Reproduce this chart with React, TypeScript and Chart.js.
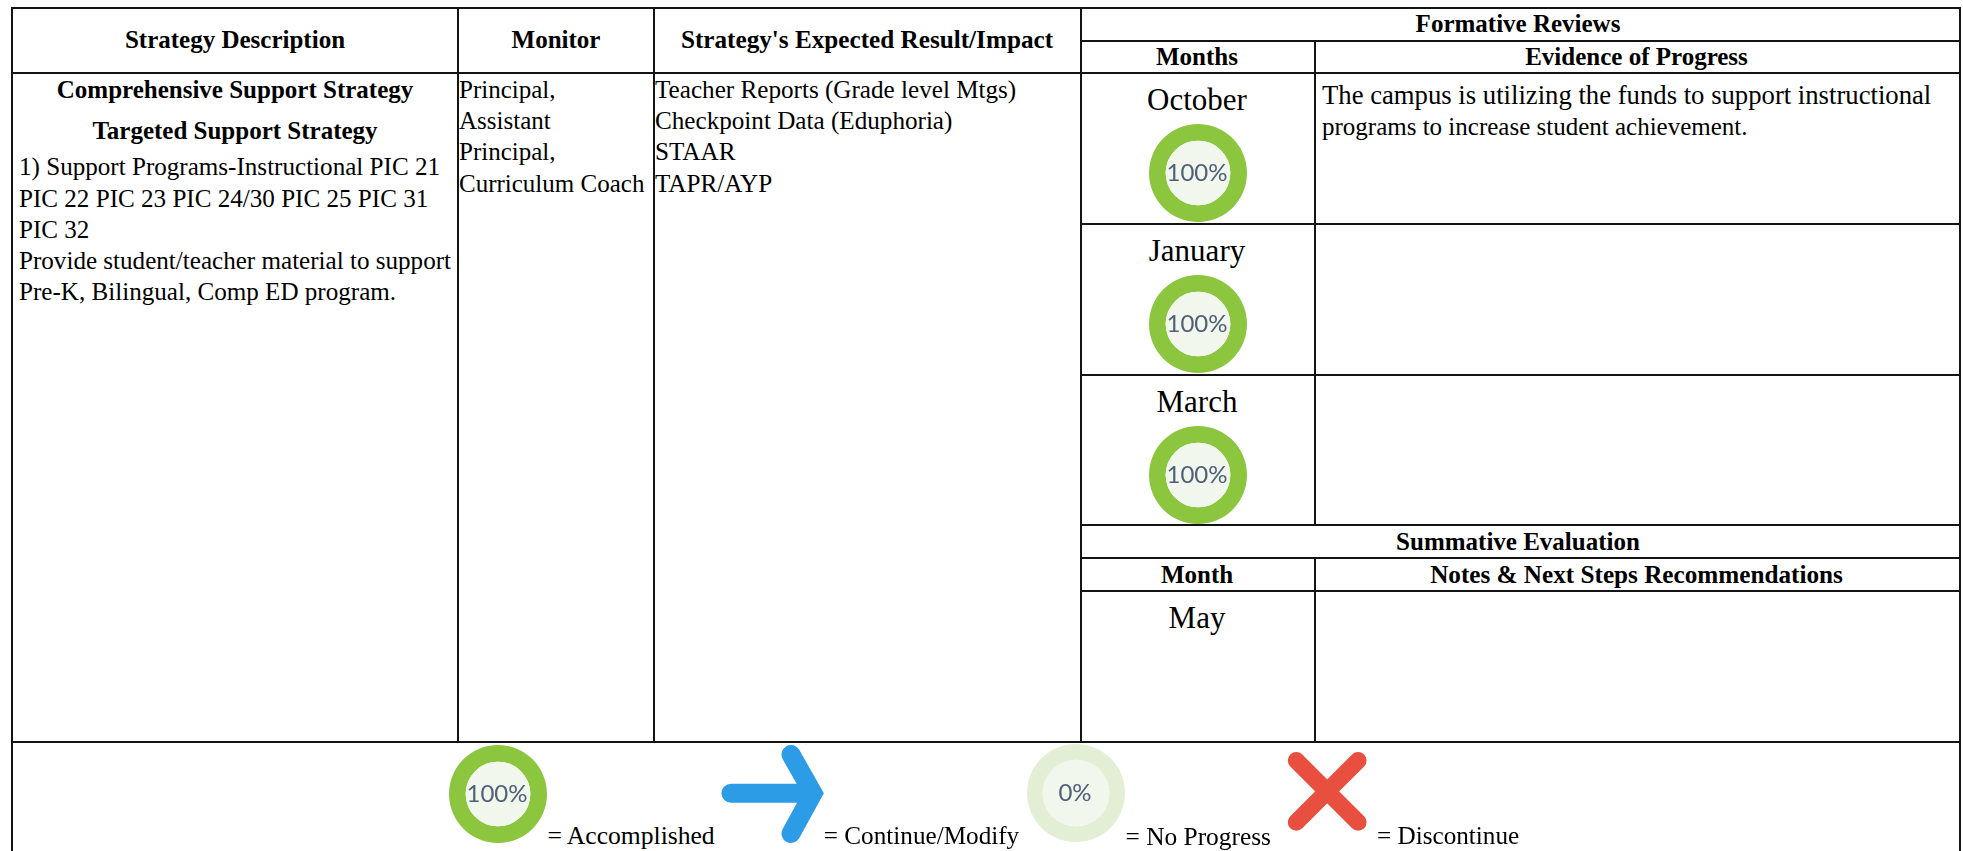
import React, { useEffect, useRef } from "react";
import { Chart, registerables } from "chart.js";

Chart.register(...registerables);

// ---- content ----
const headerStrategy = "Strategy Description";
const headerMonitor = "Monitor";
const headerImpact = "Strategy's Expected Result/Impact";
const headerFormative = "Formative Reviews";
const headerMonths = "Months";
const headerEvidence = "Evidence of Progress";
const headerSummative = "Summative Evaluation";
const headerMonth = "Month";
const headerNotes = "Notes & Next Steps Recommendations";

const strategyTitles = ["Comprehensive Support Strategy", "Targeted Support Strategy"];
const strategyLines = [
  "1) Support Programs-Instructional PIC 21",
  "PIC 22 PIC 23 PIC 24/30 PIC 25 PIC 31",
  "PIC 32",
  "Provide student/teacher material to support",
  "Pre-K, Bilingual, Comp ED program.",
];
const monitorLines = ["Principal,", "Assistant", "Principal,", "Curriculum Coach"];
const impactLines = [
  "Teacher Reports (Grade level Mtgs)",
  "Checkpoint Data (Eduphoria)",
  "STAAR",
  "TAPR/AYP",
];

const reviewMonths = ["October", "January", "March"];
const reviewProgress = [100, 100, 100];
const evidenceLines = [
  "The campus is utilizing the funds to support instructional",
  "programs to increase student achievement.",
];
const summativeMonth = "May";

const legendAccomplished = "= Accomplished";
const legendContinue = "= Continue/Modify";
const legendNoProgress = "= No Progress";
const legendDiscontinue = "= Discontinue";
const accomplishedProgress = 100;
const noProgressProgress = 0;

// glyph polylines, in each glyph chart's own axis units
const arrowShaft = [{ x: 11, y: 50.7 }, { x: 90, y: 50.7 }];
const arrowHead = [{ x: 71, y: 89.5 }, { x: 93, y: 50.7 }, { x: 71, y: 10.5 }];
const crossStrokeA = [{ x: 16.3, y: 77.5 }, { x: 78.1, y: 15.8 }];
const crossStrokeB = [{ x: 16.3, y: 15.8 }, { x: 78.1, y: 77.5 }];

// ---- styles ----
const SERIF = '"Liberation Serif", "Times New Roman", serif';
const LINE = "#141414";
const RING = "#8cc63f";
const TRACK = "#e2efd5";
const HOLE = "#f1f7ec";
const BLUE = "#2d9ce6";
const RED = "#e94f3e";

const gaugeFace = {
  id: "gaugeFace",
  afterDatasetsDraw(chart: any, _a: any, opts: any) {
    const arc = chart.getDatasetMeta(0).data[0];
    if (!arc) return;
    const { ctx } = chart;
    const { x, y, innerRadius } = arc.getProps(["x", "y", "innerRadius"], true);
    ctx.save();
    ctx.fillStyle = HOLE;
    ctx.beginPath();
    ctx.arc(x, y, innerRadius, 0, Math.PI * 2);
    ctx.fill();
    ctx.fillStyle = "#4f6078";
    ctx.font = "24px Lato";
    ctx.textAlign = "center";
    ctx.textBaseline = "alphabetic";
    ctx.fillText(opts.label, x - 1, y + 7.5);
    ctx.restore();
  },
};

function Gauge({ value, size = 98, cutout = "66%", style }: any) {
  const ref = useRef<HTMLCanvasElement>(null);
  useEffect(() => {
    const chart = new Chart(ref.current!, {
      type: "doughnut",
      data: {
        labels: ["Progress", "Remaining"],
        datasets: [{ data: [value, 100 - value], backgroundColor: [RING, TRACK], borderWidth: 0 }],
      },
      options: {
        animation: false,
        responsive: false,
        cutout,
        plugins: { legend: { display: false }, tooltip: { enabled: false }, gaugeFace: { label: `${value}%` } },
      } as any,
      plugins: [gaugeFace],
    });
    return () => chart.destroy();
  }, [value, cutout]);
  return <canvas ref={ref} width={size} height={size} style={{ display: "block", width: size, height: size, ...style }} />;
}

function Glyph({ strokes, color, thickness, width, height, xMax, yMax, style }: any) {
  const ref = useRef<HTMLCanvasElement>(null);
  useEffect(() => {
    const chart = new Chart(ref.current!, {
      type: "scatter",
      data: {
        datasets: strokes.map((s: any) => ({
          data: s,
          showLine: true,
          pointRadius: 0,
          borderColor: color,
          borderWidth: thickness,
          borderCapStyle: "round",
          borderJoinStyle: "miter",
          tension: 0,
          clip: false,
        })),
      },
      options: {
        animation: false,
        responsive: false,
        plugins: { legend: { display: false }, tooltip: { enabled: false } },
        scales: {
          x: { type: "linear", display: false, min: 0, max: xMax },
          y: { type: "linear", display: false, min: 0, max: yMax },
        },
      } as any,
    });
    return () => chart.destroy();
  }, []);
  return <canvas ref={ref} width={width} height={height} style={{ display: "block", width, height, ...style }} />;
}

const cell: React.CSSProperties = {
  border: `2px solid ${LINE}`,
  padding: 0,
  verticalAlign: "top",
  overflow: "hidden",
  whiteSpace: "nowrap",
};
const head: React.CSSProperties = { ...cell, fontWeight: 700, textAlign: "center", verticalAlign: "middle" };
const text: React.CSSProperties = { lineHeight: "31.2px" };

function Legend({ x, size = 25.4, children }: any) {
  return (
    <span style={{ position: "absolute", left: x, top: 820.5, lineHeight: "30px", fontSize: size, fontFamily: SERIF, color: "#000", whiteSpace: "nowrap" }}>
      {children}
    </span>
  );
}

export default function App() {
  useEffect(() => {
    document.body.style.margin = "0";
    document.body.style.background = "#fff";
  }, []);
  const monthLabel: React.CSSProperties = { fontSize: 31, lineHeight: "36px", textAlign: "center", paddingTop: 8, paddingRight: 2 };
  return (
    <div style={{ position: "absolute", left: 0, top: 0, width: 1963, height: 851, overflow: "hidden", background: "#fff", fontFamily: SERIF, color: "#000" }}>
      <table
        style={{ position: "absolute", left: 11, top: 6.5, width: 1948, tableLayout: "fixed", borderCollapse: "collapse", fontSize: 25, fontFamily: SERIF }}
      >
        <colgroup>
          <col style={{ width: 446 }} />
          <col style={{ width: 196 }} />
          <col style={{ width: 427 }} />
          <col style={{ width: 234 }} />
          <col style={{ width: 645 }} />
        </colgroup>
        <tbody>
          <tr style={{ height: 33 }}>
            <td rowSpan={2} style={head}>{headerStrategy}</td>
            <td rowSpan={2} style={head}>{headerMonitor}</td>
            <td rowSpan={2} style={{ ...head, fontSize: 25.2, paddingRight: 1 }}>{headerImpact}</td>
            <td colSpan={2} style={{ ...head, paddingRight: 5 }}>{headerFormative}</td>
          </tr>
          <tr style={{ height: 32 }}>
            <td style={{ ...head, paddingRight: 2 }}>{headerMonths}</td>
            <td style={{ ...head, paddingRight: 2 }}>{headerEvidence}</td>
          </tr>
          <tr style={{ height: 151.5 }}>
            <td rowSpan={6} style={{ ...cell, paddingTop: 0.5 }}>
              <div style={{ ...text, fontWeight: 700, textAlign: "center", marginBottom: 10 }}>{strategyTitles[0]}</div>
              <div style={{ ...text, fontWeight: 700, textAlign: "center", marginBottom: 5 }}>{strategyTitles[1]}</div>
              <div style={{ paddingLeft: 6, fontSize: 25.1 }}>
                {strategyLines.map((t) => <div key={t} style={text}>{t}</div>)}
              </div>
            </td>
            <td rowSpan={6} style={{ ...cell, paddingTop: 0.5 }}>
              {monitorLines.map((t, i) => <div key={i} style={text}>{t}</div>)}
            </td>
            <td rowSpan={6} style={{ ...cell, paddingTop: 0.5, fontSize: 25.15 }}>
              {impactLines.map((t) => <div key={t} style={text}>{t}</div>)}
            </td>
            <td style={cell}>
              <div style={monthLabel}>{reviewMonths[0]}</div>
              <Gauge value={reviewProgress[0]} style={{ margin: "6px auto 0" }} />
            </td>
            <td style={{ ...cell, paddingLeft: 6, paddingTop: 6.5 }}>
              <div style={{ ...text, fontSize: 26.7 }}>{evidenceLines[0]}</div>
              <div style={{ ...text, fontSize: 25 }}>{evidenceLines[1]}</div>
            </td>
          </tr>
          <tr style={{ height: 151 }}>
            <td style={cell}>
              <div style={monthLabel}>{reviewMonths[1]}</div>
              <Gauge value={reviewProgress[1]} style={{ margin: "6px auto 0" }} />
            </td>
            <td style={cell} />
          </tr>
          <tr style={{ height: 150 }}>
            <td style={cell}>
              <div style={monthLabel}>{reviewMonths[2]}</div>
              <Gauge value={reviewProgress[2]} style={{ margin: "6px auto 0" }} />
            </td>
            <td style={cell} />
          </tr>
          <tr style={{ height: 33 }}>
            <td colSpan={2} style={{ ...head, paddingRight: 5 }}>{headerSummative}</td>
          </tr>
          <tr style={{ height: 33 }}>
            <td style={{ ...head, paddingRight: 2 }}>{headerMonth}</td>
            <td style={{ ...head, paddingRight: 2, fontSize: 25.2 }}>{headerNotes}</td>
          </tr>
          <tr style={{ height: 151 }}>
            <td style={cell}>
              <div style={monthLabel}>{summativeMonth}</div>
            </td>
            <td style={cell} />
          </tr>
          <tr style={{ height: 130 }}>
            <td colSpan={5} style={cell} />
          </tr>
        </tbody>
      </table>

      <Gauge value={accomplishedProgress} style={{ position: "absolute", left: 449, top: 745 }} />
      <Legend x={547.4} size={25.6}>{legendAccomplished}</Legend>
      <Glyph
        strokes={[arrowShaft, arrowHead]}
        color={BLUE}
        thickness={19}
        width={106}
        height={100}
        xMax={106}
        yMax={100}
        style={{ position: "absolute", left: 720, top: 744 }}
      />
      <Legend x={823.8} size={25.2}>{legendContinue}</Legend>
      <Gauge value={noProgressProgress} cutout="68%" style={{ position: "absolute", left: 1027, top: 744 }} />
      <Legend x={1125.5}>{legendNoProgress}</Legend>
      <Glyph
        strokes={[crossStrokeA, crossStrokeB]}
        color={RED}
        thickness={17}
        width={94}
        height={94}
        xMax={94}
        yMax={94}
        style={{ position: "absolute", left: 1280, top: 744 }}
      />
      <Legend x={1377} size={25.2}>{legendDiscontinue}</Legend>
    </div>
  );
}
